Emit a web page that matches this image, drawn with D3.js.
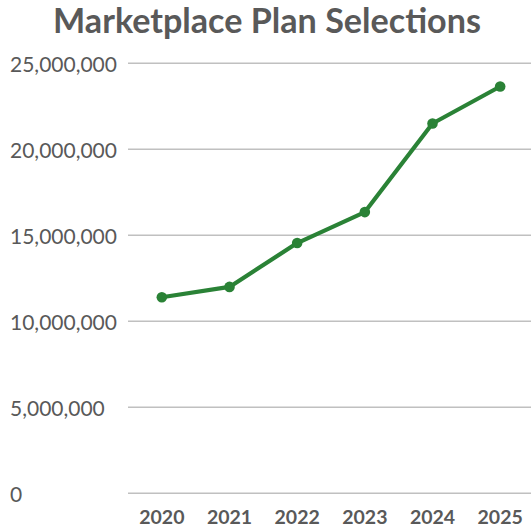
<!DOCTYPE html>
<html><head><meta charset="utf-8">
<script src="https://cdn.jsdelivr.net/npm/d3@7"></script>
<style>html,body{margin:0;padding:0;background:#fff;}svg{display:block;}</style>
</head><body>
<svg id="chart" width="531" height="530"></svg>
<script>
const title = "Marketplace Plan Selections";
const years = ["2020","2021","2022","2023","2024","2025"];
const selections = [11400000, 12000000, 14550000, 16350000, 21500000, 23650000];
const yTicks = [0, 5000000, 10000000, 15000000, 20000000, 25000000];

const svg = d3.select("#chart");
const W = 531, H = 530;
const plot = {left: 128, right: 534, top: 63.3, bottom: 493.3};
const font = "Lato, 'Open Sans', sans-serif";
const grey = "#595959";

const x = d3.scalePoint().domain(years).range([plot.left, plot.right]).padding(0.5);
const y = d3.scaleLinear().domain([0, 25000000]).range([plot.bottom, plot.top]);

// gridlines
svg.append("g").selectAll("line").data(yTicks).join("line")
  .attr("x1", plot.left).attr("x2", W)
  .attr("y1", d => y(d)).attr("y2", d => y(d))
  .attr("stroke", "#c0c0c0").attr("stroke-width", 1.4);

// y labels (left aligned)
const fmt = d3.format(",");
svg.append("g").selectAll("text").data(yTicks).join("text")
  .attr("x", 10).attr("y", d => y(d) + 8.5)
  .attr("text-anchor", "start")
  .attr("font-family", font).attr("font-size", 21).attr("fill", grey)
  .text(d => fmt(d));

// x labels
svg.append("g").selectAll("text").data(years).join("text")
  .attr("x", d => x(d)).attr("y", 524)
  .attr("text-anchor", "middle")
  .attr("font-family", font).attr("font-weight", "bold").attr("font-size", 19.5).attr("fill", grey)
  .text(d => d);

// line
const data = years.map((yr, i) => ({yr, v: selections[i]}));
const green = "#2a8236";
svg.append("path").datum(data)
  .attr("fill", "none").attr("stroke", green).attr("stroke-width", 4.2)
  .attr("stroke-linejoin", "round")
  .attr("d", d3.line().x(d => x(d.yr)).y(d => y(d.v)));
svg.append("g").selectAll("circle").data(data).join("circle")
  .attr("cx", d => x(d.yr)).attr("cy", d => y(d.v)).attr("r", 5.3)
  .attr("fill", green);

// title
const t = svg.append("text")
  .attr("x", 267).attr("y", 33)
  .attr("text-anchor", "middle")
  .attr("font-family", font).attr("font-weight", "bold").attr("font-size", 34).attr("fill", grey)
  .text(title);
const tw = t.node().getComputedTextLength();
t.attr("font-size", 34 * 428 / tw);
</script>
</body></html>
